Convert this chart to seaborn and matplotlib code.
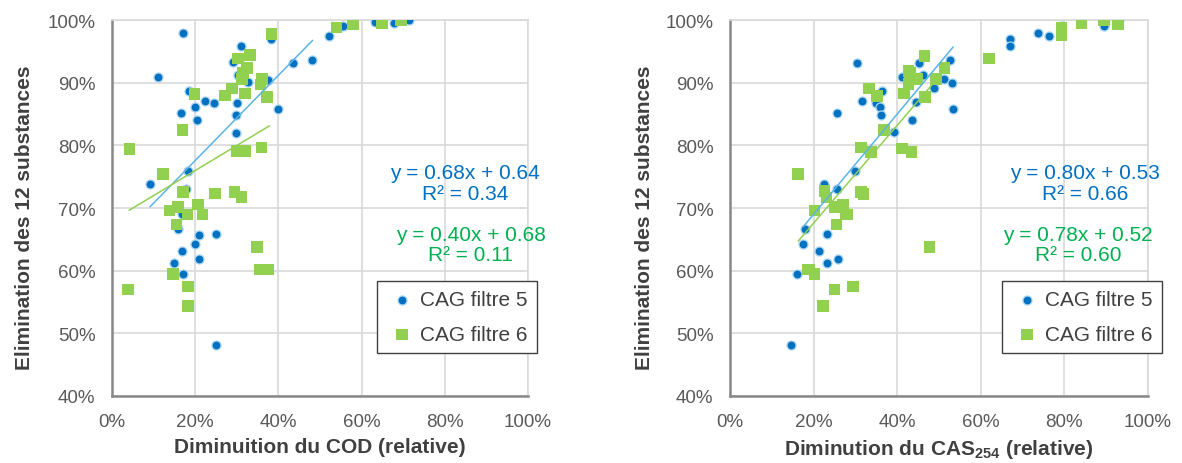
import numpy as np
import pandas as pd
import matplotlib
matplotlib.use("Agg")
import matplotlib.pyplot as plt
import seaborn as sns
from matplotlib.ticker import PercentFormatter, MultipleLocator

# --- data (percent values) ---
# left panel: reduction of COD
cod_f5_x = [17.1, 11.1, 18.5, 19.9, 22.3, 24.5, 16.6, 20.3, 31.1, 29.0, 30.3, 32.7, 37.5,
            38.2, 43.5, 39.9, 30.1, 29.7, 29.8, 18.2, 9.1, 17.8, 16.7, 15.8, 20.8, 24.9,
            19.9, 16.9, 20.8, 15.0, 17.0, 24.9, 48.1, 52.1, 55.4, 63.1, 67.7, 71.3]
cod_f5_y = [98.0, 91.0, 88.7, 86.2, 87.1, 86.8, 85.1, 84.1, 95.9, 93.3, 91.2, 90.1, 90.4,
            97.0, 93.2, 85.8, 86.8, 84.8, 82.0, 75.9, 73.9, 73.1, 69.1, 66.6, 65.7, 65.9,
            64.2, 63.1, 61.8, 61.2, 59.4, 48.1, 93.7, 97.5, 99.0, 99.7, 99.5, 100.0]
cod_f6_x = [38.3, 30.3, 33.2, 32.4, 31.5, 31.2, 36.1, 35.7, 37.3, 28.9, 27.2, 32.0, 19.8,
            16.9, 4.2, 29.9, 32.1, 35.9, 12.3, 17.1, 24.7, 29.4, 31.1, 15.9, 13.8, 18.1,
            20.7, 21.7, 15.5, 34.9, 35.5, 37.5, 14.7, 3.9, 18.3, 18.3, 53.9, 57.9, 64.9, 69.5]
cod_f6_y = [97.8, 93.9, 94.4, 92.4, 91.6, 90.6, 90.6, 89.7, 87.7, 89.1, 88.0, 88.3, 88.2,
            82.5, 79.4, 79.1, 79.1, 79.7, 75.4, 72.6, 72.3, 72.6, 71.8, 70.2, 69.6, 69.0,
            70.6, 69.0, 67.4, 63.8, 60.2, 60.2, 59.5, 57.0, 57.5, 54.4, 98.8, 99.4, 99.5, 100.0]

# right panel: reduction of CAS254
cas_f5_x = [30.5, 41.1, 45.2, 46.2, 36.3, 31.7, 34.9, 35.9, 25.5, 36.2, 44.5, 43.5, 48.7,
            39.3, 29.9, 22.5, 25.7, 27.7, 17.9, 23.3, 17.5, 21.4, 23.1, 25.8, 16.0, 14.6,
            52.6, 51.2, 53.2, 53.4, 67.0, 67.0, 73.6, 76.3, 79.3, 89.3, 89.5, 93.1]
cas_f5_y = [93.2, 91.0, 93.1, 91.2, 88.7, 87.1, 86.7, 86.2, 85.1, 84.8, 86.9, 84.1, 89.1,
            82.1, 75.9, 73.9, 73.0, 69.3, 66.6, 65.8, 64.2, 63.1, 61.2, 61.8, 59.4, 48.1,
            93.7, 90.6, 90.0, 85.8, 97.0, 95.9, 98.0, 97.5, 99.1, 99.7, 99.0, 100.0]
cas_f6_x = [46.5, 42.7, 44.8, 42.7, 41.7, 46.7, 33.3, 35.1, 49.3, 36.9, 31.3, 33.7, 41.2,
            43.4, 16.3, 22.6, 31.3, 31.9, 23.1, 20.2, 25.0, 27.1, 27.7, 25.5, 47.7, 18.7,
            20.2, 25.0, 29.5, 22.3, 51.3, 62.0, 79.3, 79.3, 84.1, 89.5, 92.9, 43.0, 19.0, 28.0]
cas_f6_y = [94.3, 91.9, 90.6, 89.8, 88.3, 87.7, 89.1, 87.9, 90.6, 82.5, 79.7, 79.0, 79.5,
            79.0, 75.4, 72.7, 72.6, 72.2, 71.7, 69.6, 70.2, 70.6, 69.0, 67.4, 63.8, 60.2,
            59.5, 57.0, 57.5, 54.4, 92.4, 93.9, 98.8, 97.6, 99.5, 100.0, 99.4, 91.6, 60.2, 69.0]

# linear trendlines: slope, intercept, x range (fraction)
cod_trend_f5 = [0.68, 0.64, 0.091, 0.482]
cod_trend_f6 = [0.40, 0.68, 0.041, 0.378]
cas_trend_f5 = [0.80, 0.53, 0.175, 0.534]
cas_trend_f6 = [0.78, 0.52, 0.163, 0.510]

cod_eq = ["y = 0.68x + 0.64\nR² = 0.34", "y = 0.40x + 0.68\nR² = 0.11"]
cas_eq = ["y = 0.80x + 0.53\nR² = 0.66", "y = 0.78x + 0.52\nR² = 0.60"]

series_names = ["CAG filtre 5", "CAG filtre 6"]

BLUE = "#0070C0"
GREEN = "#92D050"
BLUE_LINE = "#5AB4E6"
GREEN_TXT = "#00B050"

sns.set_theme(style="white")
plt.rcParams["font.family"] = ["Liberation Sans", "DejaVu Sans"]
plt.rcParams["mathtext.fontset"] = "custom"
plt.rcParams["mathtext.rm"] = "Liberation Sans"
plt.rcParams["mathtext.bf"] = "Liberation Sans:bold"


def to_frame(x, y):
    return pd.DataFrame({"x": np.array(x) / 100.0, "y": np.array(y) / 100.0})


def draw_panel(ax, f5, f6, trends, eqs, eq_pos, xlabel, legend_anchor, ylab_x):
    d5 = to_frame(*f5)
    d6 = to_frame(*f6)
    sns.scatterplot(data=d5, x="x", y="y", ax=ax, color=BLUE, marker="o", s=42,
                    edgecolor="#A8D4F2", linewidth=0.9, label=series_names[0], zorder=3)
    sns.scatterplot(data=d6, x="x", y="y", ax=ax, color=GREEN, marker="s", s=70,
                    edgecolor="none", linewidth=0, label=series_names[1], zorder=4)

    for (slope, icpt, x0, x1), col in zip(trends, [BLUE_LINE, GREEN]):
        xs = np.array([x0, x1])
        ax.plot(xs, slope * xs + icpt, color=col, lw=1.1, zorder=5)

    for txt, (tx, ty), col in zip(eqs, eq_pos, [BLUE, GREEN_TXT]):
        ax.text(tx, ty, txt, color=col, fontsize=15, ha="center", va="center",
                linespacing=1.1, clip_on=False, zorder=6)

    ax.set_xlim(0, 1)
    ax.set_ylim(0.4, 1.0)
    ax.xaxis.set_major_locator(MultipleLocator(0.2))
    ax.yaxis.set_major_locator(MultipleLocator(0.1))
    ax.xaxis.set_major_formatter(PercentFormatter(1.0, decimals=0))
    ax.yaxis.set_major_formatter(PercentFormatter(1.0, decimals=0))
    ax.grid(True, color="#D9D9D9", lw=1.2, zorder=0)
    ax.set_axisbelow(True)

    for side in ["top", "right"]:
        ax.spines[side].set_color("#D9D9D9")
        ax.spines[side].set_linewidth(1.2)
    for side in ["left", "bottom"]:
        ax.spines[side].set_color("#888888")
        ax.spines[side].set_linewidth(1.8)
    ax.tick_params(axis="both", which="major", direction="out", length=5, width=1,
                   color="#888888", labelsize=13.5, labelcolor="#595959", pad=7)

    ax.set_xlabel(xlabel, fontsize=15, fontweight="bold", color="#404040", labelpad=5)
    ax.set_ylabel("Elimination des 12 substances", fontsize=15, fontweight="bold",
                  color="#404040")
    ax.yaxis.set_label_coords(ylab_x, 0.477)

    leg = ax.legend(loc="upper left", bbox_to_anchor=legend_anchor,
                    bbox_transform=ax.figure.transFigure, fontsize=15, frameon=True,
                    fancybox=False, edgecolor="#404040", framealpha=1,
                    handletextpad=0.1, borderpad=0.45, labelspacing=0.75,
                    handlelength=1.5, borderaxespad=0)
    leg.get_frame().set_linewidth(1.0)
    for t in leg.get_texts():
        t.set_color("#404040")


fig = plt.figure(figsize=(11.82, 4.64), dpi=100)
ax1 = fig.add_axes([0.0948, 0.1444, 0.352, 0.810])
ax2 = fig.add_axes([0.6176, 0.1444, 0.3536, 0.810])

draw_panel(ax1, (cod_f5_x, cod_f5_y), (cod_f6_x, cod_f6_y),
           [cod_trend_f5, cod_trend_f6], cod_eq,
           [(0.848, 0.740), (0.862, 0.642)],
           "Diminuition du COD (relative)", (0.319, 0.392), -0.187)
draw_panel(ax2, (cas_f5_x, cas_f5_y), (cas_f6_x, cas_f6_y),
           [cas_trend_f5, cas_trend_f6], cas_eq,
           [(0.849, 0.740), (0.833, 0.642)],
           r"Diminution du CAS$_{\mathbf{254}}$ (relative)", (0.8477, 0.392), -0.181)

fig.savefig("out.png", dpi=100)
